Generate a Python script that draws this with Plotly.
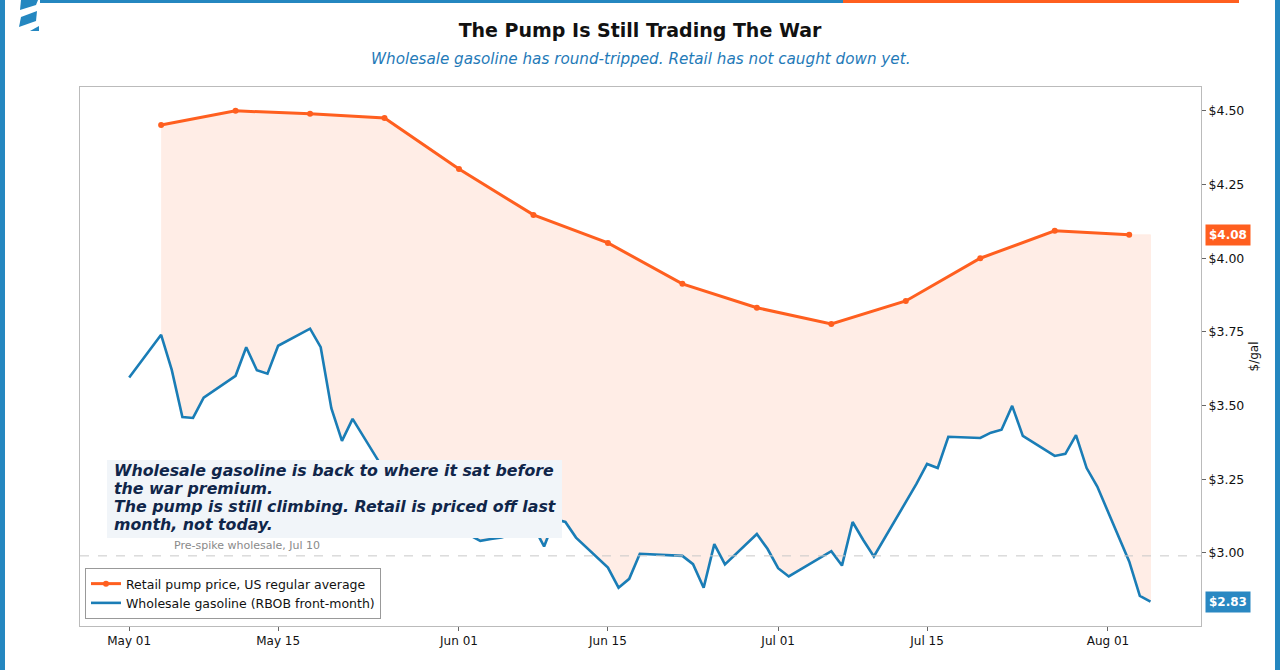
import plotly.graph_objects as go

# retail pump price, weekly (Mondays)
retail_dates = ["2026-05-04", "2026-05-11", "2026-05-18", "2026-05-25", "2026-06-01",
                "2026-06-08", "2026-06-15", "2026-06-22", "2026-06-29", "2026-07-06",
                "2026-07-13", "2026-07-20", "2026-07-27", "2026-08-03"]
retail_price = [4.452, 4.500, 4.490, 4.476, 4.303, 4.147, 4.052, 3.913, 3.832, 3.777,
                3.855, 4.000, 4.093, 4.080]

# wholesale RBOB front-month, trading days
wholesale_dates = [
    "2026-05-01", "2026-05-04", "2026-05-05", "2026-05-06", "2026-05-07", "2026-05-08",
    "2026-05-11", "2026-05-12", "2026-05-13", "2026-05-14", "2026-05-15",
    "2026-05-18", "2026-05-19", "2026-05-20", "2026-05-21", "2026-05-22",
    "2026-05-26", "2026-05-27", "2026-05-28", "2026-05-29",
    "2026-06-01", "2026-06-02", "2026-06-03", "2026-06-04", "2026-06-05",
    "2026-06-08", "2026-06-09", "2026-06-10", "2026-06-11", "2026-06-12",
    "2026-06-15", "2026-06-16", "2026-06-17", "2026-06-18",
    "2026-06-22", "2026-06-23", "2026-06-24", "2026-06-25", "2026-06-26",
    "2026-06-29", "2026-06-30", "2026-07-01", "2026-07-02",
    "2026-07-06", "2026-07-07", "2026-07-08", "2026-07-09", "2026-07-10",
    "2026-07-13", "2026-07-14", "2026-07-15", "2026-07-16", "2026-07-17",
    "2026-07-20", "2026-07-21", "2026-07-22", "2026-07-23", "2026-07-24",
    "2026-07-27", "2026-07-28", "2026-07-29", "2026-07-30", "2026-07-31",
    "2026-08-03", "2026-08-04", "2026-08-05"]
wholesale_price = [
    3.595, 3.740, 3.621, 3.461, 3.458, 3.527,
    3.601, 3.698, 3.620, 3.608, 3.703,
    3.761, 3.698, 3.491, 3.380, 3.455,
    3.220, 3.180, 3.140, 3.110,
    3.080, 3.060, 3.041, 3.047, 3.052,
    3.090, 3.022, 3.115, 3.105, 3.052,
    2.950, 2.882, 2.912, 2.997,
    2.990, 2.962, 2.882, 3.030, 2.961,
    3.064, 3.014, 2.948, 2.920,
    3.006, 2.957, 3.105, 3.044, 2.988,
    3.170, 3.234, 3.302, 3.288, 3.394,
    3.390, 3.408, 3.418, 3.499, 3.397,
    3.329, 3.336, 3.400, 3.288, 3.225,
    2.971, 2.854, 2.835]

pre_spike = 2.99  # wholesale on Jul 10
tick_dates = ["2026-05-01", "2026-05-15", "2026-06-01", "2026-06-15",
              "2026-07-01", "2026-07-15", "2026-08-01"]
tick_text = ["May 01", "May 15", "Jun 01", "Jun 15", "Jul 01", "Jul 15", "Aug 01"]
y_ticks = [3.00, 3.25, 3.50, 3.75, 4.00, 4.25, 4.50]
y_tick_text = ["$3.00", "$3.25", "$3.50", "$3.75", "$4.00", "$4.25", "$4.50"]

note_lines = ["Wholesale gasoline is back to where it sat before",
              "the war premium.",
              "The pump is still climbing. Retail is priced off last",
              "month, not today."]

ORANGE = "#ff5f1f"
BLUE = "#1a7db6"
FONT = "DejaVu Sans"

W, H = 1280, 670
L, R, T, B = 80, 79, 87, 44
pw, ph = W - L - R, H - T - B


def px(x):
    return (x - L) / pw


def py(y):
    return (H - B - y) / ph


# gap polygon: retail on top (carried to last wholesale day), wholesale underneath
start = wholesale_dates.index(retail_dates[0])
top_x = retail_dates + [wholesale_dates[-1]]
top_y = retail_price + [retail_price[-1]]
gap_x = top_x + wholesale_dates[start:][::-1]
gap_y = top_y + wholesale_price[start:][::-1]

fig = go.Figure()
fig.add_trace(go.Scatter(x=gap_x, y=gap_y, fill="toself", mode="lines",
                         line=dict(width=0.6, color="rgba(255,95,31,0.10)"),
                         fillcolor="rgba(255,95,31,0.11)", showlegend=False,
                         hoverinfo="skip"))
fig.add_trace(go.Scatter(x=retail_dates, y=retail_price, mode="lines+markers",
                         name="Retail pump price, US regular average",
                         line=dict(color=ORANGE, width=3), marker=dict(size=6, color=ORANGE)))
fig.add_trace(go.Scatter(x=wholesale_dates, y=wholesale_price, mode="lines",
                         name="Wholesale gasoline (RBOB front-month)",
                         line=dict(color=BLUE, width=2.6)))

fig.add_annotation(xref="paper", yref="paper", x=px(172), y=py(545), xanchor="left",
                   yanchor="middle", showarrow=False, text="Pre-spike wholesale, Jul 10",
                   font=dict(family=FONT, size=11, color="#8a8a8a"))

# note: one text line per row over a light box
for i, line in enumerate(note_lines):
    fig.add_annotation(xref="paper", yref="paper", x=px(112), y=py(470 + 18 * i),
                       xanchor="left", yanchor="middle", showarrow=False,
                       text="<b><i>%s</i></b>" % line,
                       font=dict(family=FONT, size=15.8, color="#10264a"))

fig.add_annotation(xref="paper", yref="y", x=1.004, y=retail_price[-1], xanchor="left",
                   showarrow=False, text="<b>$%.2f</b>" % retail_price[-1],
                   font=dict(family=FONT, size=12, color="white"), bgcolor=ORANGE, borderpad=3)
fig.add_annotation(xref="paper", yref="y", x=1.004, y=wholesale_price[-1], xanchor="left",
                   showarrow=False, text="<b>$%.2f</b>" % wholesale_price[-1],
                   font=dict(family=FONT, size=12, color="white"), bgcolor="#2a88c2", borderpad=3)

fig.add_annotation(xref="paper", yref="paper", x=0.5, y=py(59), xanchor="center",
                   yanchor="middle", showarrow=False,
                   text="<i>Wholesale gasoline has round-tripped. Retail has not caught down yet.</i>",
                   font=dict(family=FONT, size=15.2, color="#1f7ab8"))

# note box, page frame and logo
shapes = [
    dict(type="line", xref="paper", yref="y", x0=0, x1=1, y0=pre_spike, y1=pre_spike,
         line=dict(color="#c8c8c8", width=1, dash="dash"), layer="above"),
    dict(type="rect", xref="paper", yref="paper", x0=px(107), x1=px(562), y0=py(538), y1=py(460),
         fillcolor="#f1f5f9", line_width=0, layer="above"),
    dict(type="rect", xref="paper", yref="paper", x0=px(0), x1=px(5), y0=py(670), y1=py(0),
         fillcolor="#2487c0", line_width=0, layer="above"),
    dict(type="rect", xref="paper", yref="paper", x0=px(1275), x1=px(1280), y0=py(670), y1=py(0),
         fillcolor="#2487c0", line_width=0, layer="above"),
    dict(type="rect", xref="paper", yref="paper", x0=px(40), x1=px(843), y0=py(3), y1=py(0),
         fillcolor="#2487c0", line_width=0, layer="above"),
    dict(type="rect", xref="paper", yref="paper", x0=px(843), x1=px(1239), y0=py(3), y1=py(0),
         fillcolor=ORANGE, line_width=0, layer="above"),
]
for pts in ([(21, 0), (38, 0), (36, 5), (20, 10)],
            [(21, 17), (37, 11), (36, 21), (19, 27)],
            [(30, 31), (39, 26), (39, 31)]):
    path = "M " + " L ".join("%f,%f" % (px(a), py(b)) for a, b in pts) + " Z"
    shapes.append(dict(type="path", xref="paper", yref="paper", path=path,
                       fillcolor="#2487c0", line_width=0, layer="above"))

fig.update_layout(
    width=W, height=H,
    margin=dict(l=L, r=R, t=T, b=B),
    paper_bgcolor="white", plot_bgcolor="white",
    font=dict(family=FONT, size=12, color="#111"),
    title=dict(text="<b>The Pump Is Still Trading The War</b>", x=0.5, xanchor="center",
               y=1 - 30 / H, yanchor="middle", font=dict(family=FONT, size=19, color="#111")),
    legend=dict(x=px(85), y=py(619), xanchor="left", yanchor="bottom",
                bgcolor="rgba(255,255,255,0.85)", bordercolor="#999", borderwidth=1,
                font=dict(family=FONT, size=12.5, color="#111"), tracegroupgap=0),
    shapes=shapes,
    showlegend=True,
)
fig.update_xaxes(range=["2026-04-26 09:00", "2026-08-09 18:00"], tickvals=tick_dates,
                 ticktext=tick_text, showgrid=False, zeroline=False, showline=True,
                 mirror=True, linecolor="#bbbbbb", ticks="outside", ticklen=4,
                 tickcolor="#666", tickfont=dict(size=12))
fig.update_yaxes(range=[2.752, 4.581], side="right", tickvals=y_ticks, ticktext=y_tick_text,
                 showgrid=False, zeroline=False, showline=True,
                 mirror=True, linecolor="#bbbbbb", ticks="outside", ticklen=4,
                 tickcolor="#666", tickfont=dict(size=12.5),
                 title=dict(text="$/gal", font=dict(size=12), standoff=6))

fig.write_html("out.html", config={"displayModeBar": False},
               post_script="document.body.style.margin='0';")
